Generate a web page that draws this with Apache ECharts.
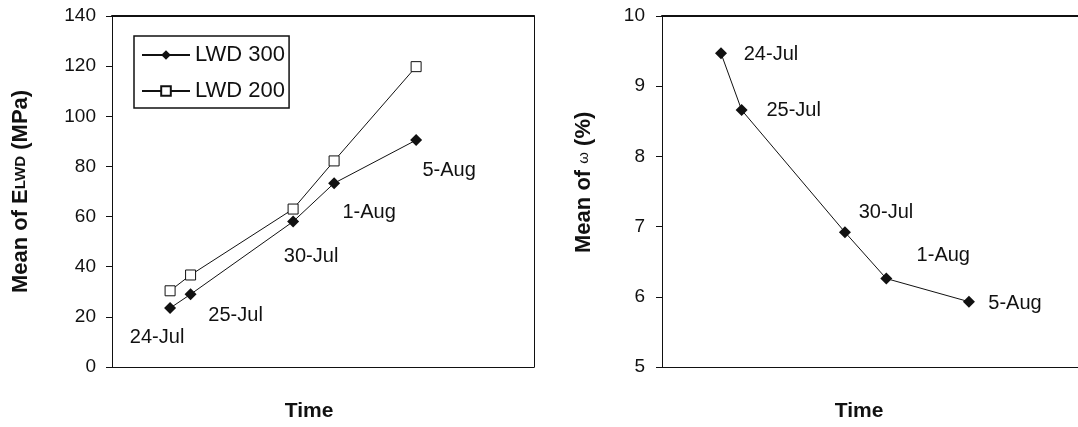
<!DOCTYPE html>
<html>
<head>
<meta charset="utf-8">
<script src="https://cdn.jsdelivr.net/npm/echarts@6/dist/echarts.min.js"></script>
<style>
  html, body { margin: 0; padding: 0; background: #fff; }
  #chartmain { width: 1078px; height: 427px; }
</style>
</head>
<body>
<div id="chartmain"></div>
<script>
// sampling dates and their printed labels
var dates = ['2007-07-24', '2007-07-25', '2007-07-30', '2007-08-01', '2007-08-05'];
var dateLabels = ['24-Jul', '25-Jul', '30-Jul', '1-Aug', '5-Aug'];
// mean E_LWD (MPa)
var lwd300 = [23.5, 29, 58, 73.3, 90.5];
var lwd200 = [30.4, 36.7, 63, 82.2, 119.8];
// mean moisture content (%)
var moisture = [9.47, 8.66, 6.92, 6.26, 5.93];
// y axis ranges
var eAxis = { min: 0, max: 140, interval: 20 };
var wAxis = { min: 5, max: 10, interval: 1 };

// where each date label sits relative to its point (pixels)
var leftLabelShift = [[-13, 29], [45, 21], [18, 35], [35, 29], [33, 30]];
var rightLabelShift = [[50, 1], [52, 0], [41, -20], [57, -23], [46, 2]];

var FONT = '"Liberation Sans", Arial, sans-serif';
var INK = '#111';
// visible time span of each panel (right panel is cut by the page edge)
var leftSpan = [new Date(2007, 6, 21, 4).getTime(), new Date(2007, 7, 10, 18).getTime()];
var rightSpan = [new Date(2007, 6, 21, 3, 30).getTime(), new Date(2007, 7, 10, 6, 40).getTime()];

function pairs(vals) {
    return dates.map(function (d, i) { return [d, vals[i]]; });
}
function labelled(vals, shifts) {
    return dates.map(function (d, i) {
        return {
            value: [d, vals[i]],
            label: {
                show: true,
                formatter: dateLabels[i],
                position: 'inside',
                align: 'center',
                verticalAlign: 'middle',
                offset: shifts[i],
                fontSize: 20,
                fontFamily: FONT,
                color: INK
            }
        };
    });
}

function timeAxis(grid, span, shift) {
    return {
        type: 'time', gridIndex: grid, min: span[0], max: span[1],
        axisLine: { show: true, lineStyle: { color: INK, width: 1 } },
        axisTick: { show: false }, axisLabel: { show: false }, splitLine: { show: false },
        name: 'Time', nameLocation: 'middle', nameGap: 34,
        nameTextStyle: { fontSize: 21, fontWeight: 'bold', fontFamily: FONT, color: INK, padding: [0, shift, 0, 0] }
    };
}
function topLine(grid) {
    return {
        type: 'value', gridIndex: grid, position: 'top',
        axisLine: { show: true, onZero: false, lineStyle: { color: INK, width: 2 } },
        axisTick: { show: false }, axisLabel: { show: false }, splitLine: { show: false }
    };
}
function valueAxis(grid, range, name, gap, margin, rich) {
    return {
        type: 'value', gridIndex: grid, min: range.min, max: range.max, interval: range.interval,
        axisLine: { show: true, lineStyle: { color: INK, width: 1 } },
        axisTick: { show: true, inside: false, length: 6, lineStyle: { color: INK } },
        axisLabel: { fontSize: 19, fontFamily: FONT, color: INK, margin: margin },
        splitLine: { show: false },
        name: name, nameLocation: 'middle', nameGap: gap,
        nameTextStyle: { fontSize: 22, fontWeight: 'bold', fontFamily: FONT, color: INK, rich: rich }
    };
}

var chart = echarts.init(document.getElementById('chartmain'));
chart.setOption({
    animation: false,
    backgroundColor: '#fff',
    grid: [
        { left: 112, top: 16, width: 422, height: 351 },
        { left: 662, top: 16, right: 0, height: 351 }
    ],
    legend: {
        left: 134, top: 36, orient: 'vertical',
        padding: [8, 4, 6, 7], itemGap: 14, itemWidth: 48, itemHeight: 12,
        borderColor: INK, borderWidth: 1.5,
        textStyle: { fontSize: 22, fontFamily: FONT, color: INK },
        data: ['LWD 300', 'LWD 200']
    },
    xAxis: [timeAxis(0, leftSpan, 28), timeAxis(1, rightSpan, 22), topLine(0), topLine(1)],
    yAxis: [
        valueAxis(0, eAxis, 'Mean of E{s|LWD} (MPa)', 80, 16,
            { s: { fontSize: 15, fontWeight: 'bold', fontFamily: FONT, color: INK } }),
        valueAxis(1, wAxis, '   Mean of {w|ω} (%)', 67, 17,
            { w: { fontSize: 15, fontWeight: 'normal', fontFamily: FONT, color: INK } }),
        {
            type: 'value', gridIndex: 0, position: 'right',
            axisLine: { show: true, onZero: false, lineStyle: { color: INK, width: 1 } },
            axisTick: { show: false }, axisLabel: { show: false }, splitLine: { show: false }
        }
    ],
    series: [
        {
            name: 'LWD 300', type: 'line', xAxisIndex: 0, yAxisIndex: 0,
            data: labelled(lwd300, leftLabelShift),
            symbol: 'diamond', symbolSize: 12,
            lineStyle: { color: INK, width: 1 },
            itemStyle: { color: INK }
        },
        {
            name: 'LWD 200', type: 'line', xAxisIndex: 0, yAxisIndex: 0,
            data: pairs(lwd200),
            symbol: 'rect', symbolSize: 10,
            lineStyle: { color: INK, width: 1 },
            itemStyle: { color: '#fff', borderColor: INK, borderWidth: 1 }
        },
        {
            name: 'moisture', type: 'line', xAxisIndex: 1, yAxisIndex: 1,
            data: labelled(moisture, rightLabelShift),
            symbol: 'diamond', symbolSize: 12,
            lineStyle: { color: INK, width: 1 },
            itemStyle: { color: INK }
        }
    ]
});
</script>
</body>
</html>
